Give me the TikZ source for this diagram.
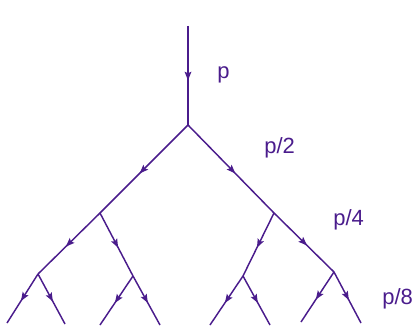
\documentclass[tikz,border=0pt]{standalone}
\usepackage{fontspec}
\setmainfont{Liberation Sans}
\usepackage{tikz}
\usetikzlibrary{arrows.meta,decorations.markings}
\definecolor{TreePurple}{HTML}{4A1C8C}
\tikzset{
  branch/.style={draw=TreePurple, line width=1.1pt,
    postaction={decorate, decoration={markings,
      mark=at position 0.55 with {\arrow{Stealth[length=6.5pt, width=5pt, inset=1.2pt]}}}}},
  share/.style={text=TreePurple, inner sep=0pt, anchor=base west,
    font=\fontsize{16.5}{20}\selectfont}
}

\begin{document}
\begin{tikzpicture}[x=0.75pt, y=-0.75pt]
  \useasboundingbox (0,0) rectangle (417,328);
  % junctions
  \coordinate (top) at (188,26);
  \coordinate (root) at (188,125);
  \coordinate (l) at (100,213);
  \coordinate (r) at (274,213);
  \coordinate (ll) at (38,274);
  \coordinate (lr) at (133,276);
  \coordinate (rl) at (243,276);
  \coordinate (rr) at (334,272);
  % leaves
  \coordinate (lll) at (7,323);
  \coordinate (llr) at (65,324);
  \coordinate (lrl) at (100,325);
  \coordinate (lrr) at (160,325);
  \coordinate (rll) at (210,325);
  \coordinate (rlr) at (270,325);
  \coordinate (rrl) at (301,322);
  \coordinate (rrr) at (361,323);
  \draw[branch] (top) -- (root);
  \draw[branch] (root) -- (l);
  \draw[branch] (root) -- (r);
  \draw[branch] (l) -- (ll);
  \draw[branch] (l) -- (lr);
  \draw[branch] (r) -- (rl);
  \draw[branch] (r) -- (rr);
  \foreach \j in {ll,lr,rl,rr}{
    \draw[branch] (\j) -- (\j l);
    \draw[branch] (\j) -- (\j r);
  }
  % flow labels
  \node[share] (pone) at (217,79) {p};
  \node[share] (ptwo) at (264,153) {p/2};
  \node[share] (pfour) at (333,225) {p/4};
  \node[share] (peight) at (382,304) {p/8};
\end{tikzpicture}
\end{document}
